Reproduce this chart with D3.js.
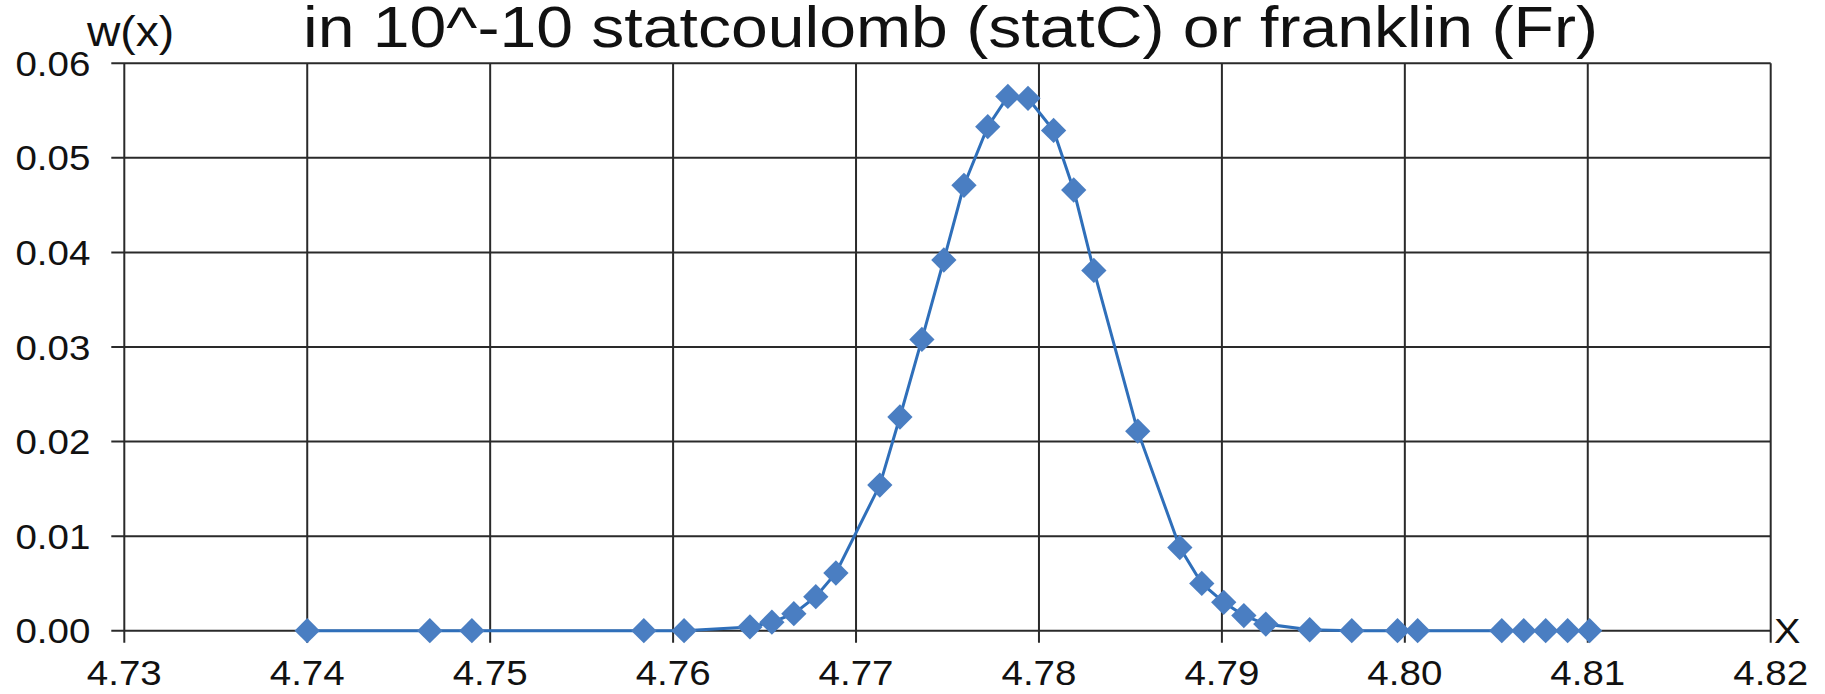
<!DOCTYPE html>
<html>
<head>
<meta charset="utf-8">
<script src="https://cdn.jsdelivr.net/npm/d3@7"></script>
<style>
  body { margin: 0; background: #fff; }
  svg { display: block; font-family: "Liberation Sans", Arial, sans-serif; }
</style>
</head>
<body>
<div id="container"></div>
<script>
// data
const xValues = [4.7400, 4.7467, 4.7490, 4.7584, 4.7606, 4.7642, 4.7654, 4.7666, 4.7678, 4.7689,
  4.7713, 4.7724, 4.7736, 4.7748, 4.7759, 4.7772, 4.7783, 4.7794, 4.7808, 4.7819,
  4.7830, 4.7854, 4.7877, 4.7889, 4.7901, 4.7912, 4.7924, 4.7948, 4.7971, 4.7996,
  4.8007, 4.8053, 4.8065, 4.8077, 4.8089, 4.8101];
const wValues = [0, 0, 0, 0, 0, 0.0004, 0.0009, 0.0018, 0.0036, 0.0061,
  0.0154, 0.0226, 0.0308, 0.0392, 0.0471, 0.0533, 0.0565, 0.0563, 0.0529, 0.0466,
  0.0381, 0.0211, 0.0088, 0.0050, 0.0030, 0.0016, 0.0007, 0.0001, 0, 0,
  0, 0, 0, 0, 0, 0];
const xTicks = [4.73, 4.74, 4.75, 4.76, 4.77, 4.78, 4.79, 4.80, 4.81, 4.82];
const yTicks = [0, 0.01, 0.02, 0.03, 0.04, 0.05, 0.06];
const titleText = 'in 10^-10 statcoulomb (statC) or franklin (Fr)';
const yLabel = 'w(x)';
const xLabel = 'X';

const width = 1825;
const height = 694;
const margin = ({top: 63.3, right: 54.3, bottom: 63.3, left: 124.3});
const stretch = 'scale(1.1,1)';

const x = d3.scaleLinear([4.73, 4.82], [margin.left, width - margin.right]);
const y = d3.scaleLinear([0, 0.06], [height - margin.bottom, margin.top]);

const svg = d3.select('#container')
  .append('svg')
  .attr('width', width)
  .attr('height', height)
  .attr('viewBox', [0, 0, width, height]);

// grid
svg.append('g')
  .attr('stroke', '#2a2a2a')
  .attr('stroke-width', 2)
  .selectAll('line')
  .data(yTicks)
  .join('line')
    .attr('x1', x(4.73) - 13)
    .attr('x2', x(4.82))
    .attr('y1', d => y(d))
    .attr('y2', d => y(d));

svg.append('g')
  .attr('stroke', '#2a2a2a')
  .attr('stroke-width', 2)
  .selectAll('line')
  .data(xTicks)
  .join('line')
    .attr('x1', d => x(d))
    .attr('x2', d => x(d))
    .attr('y1', y(0.06))
    .attr('y2', y(0) + 12);

// tick labels
svg.append('g')
  .attr('font-size', 35)
  .attr('fill', '#111')
  .attr('text-anchor', 'middle')
  .selectAll('text')
  .data(xTicks)
  .join('text')
    .attr('transform', d => `translate(${x(d)},${y(0) + 54}) ${stretch}`)
    .text(d3.format('.2f'));

svg.append('g')
  .attr('font-size', 35)
  .attr('fill', '#111')
  .attr('text-anchor', 'end')
  .selectAll('text')
  .data(yTicks)
  .join('text')
    .attr('transform', d => `translate(${x(4.73) - 34},${y(d)}) ${stretch}`)
    .attr('dy', '0.36em')
    .text(d3.format('.2f'));

// series
const points = xValues.map((v, i) => [v, wValues[i]]);

svg.append('path')
  .datum(points)
  .attr('fill', 'none')
  .attr('stroke', '#2f6fba')
  .attr('stroke-width', 3)
  .attr('d', d3.line().x(d => x(d[0])).y(d => y(d[1])));

svg.append('g')
  .attr('fill', '#4a7ec2')
  .selectAll('path')
  .data(points)
  .join('path')
    .attr('transform', d => `translate(${x(d[0])},${y(d[1])}) rotate(45)`)
    .attr('d', d3.symbol(d3.symbolSquare, 320));

// titles
svg.append('text')
  .attr('transform', 'translate(303,47) scale(1.14,1)')
  .attr('font-size', 58)
  .attr('fill', '#111')
  .text(titleText);

svg.append('text')
  .attr('transform', `translate(87,46) ${stretch}`)
  .attr('font-size', 42)
  .attr('fill', '#111')
  .text(yLabel);

svg.append('text')
  .attr('transform', `translate(1774,643) ${stretch}`)
  .attr('font-size', 36)
  .attr('fill', '#111')
  .text(xLabel);
</script>
</body>
</html>
